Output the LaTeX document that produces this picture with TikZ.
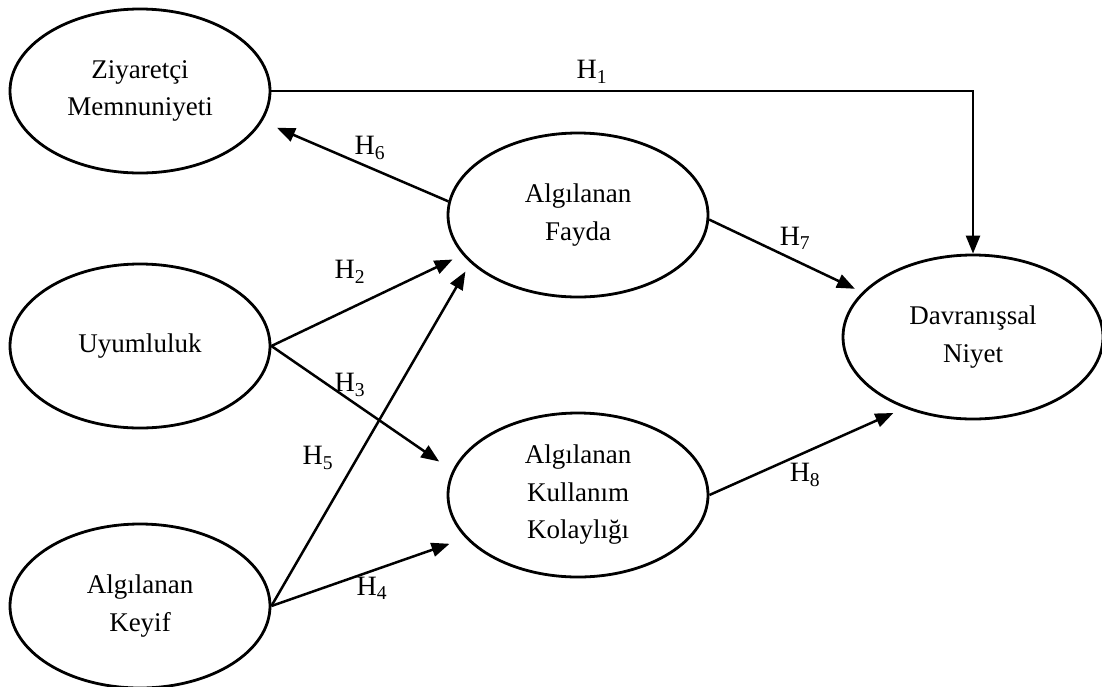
\documentclass[tikz,border=0pt]{standalone}
\usepackage{fontspec}
\setmainfont{Liberation Serif}
\usetikzlibrary{arrows.meta,shapes.geometric}

\begin{document}
\begin{tikzpicture}[x=1pt,y=-1pt,
  latent/.style={ellipse, draw, line width=2.8pt, minimum width=260pt,
    minimum height=164pt, inner sep=0pt, align=center,
    font=\fontsize{27}{37.5}\selectfont},
  rel/.style={line width=2.5pt, -{Triangle[length=18pt,width=14pt]}},
  hlab/.style={font=\fontsize{28}{32}\selectfont, inner sep=0pt}
]
\useasboundingbox (0,0) rectangle (1102,686);

% constructs
\node[latent] (Z)  at (140,91)  {Ziyaretçi\\Memnuniyeti};
\node[latent] (U)  at (140,346) {Uyumluluk};
\node[latent] (K)  at (140,606) {Algılanan\\Keyif};
\node[latent] (F)  at (578,215) {Algılanan\\Fayda};
\node[latent] (KK) at (578,495) {Algılanan\\Kullanım\\Kolaylığı};
\node[latent] (D)  at (973,337) {Davranışsal\\Niyet};

% hypothesised paths
\draw[rel] (Z.east) -| (D.north);
\draw[rel, shorten >=16pt] (F.174) -- (Z.-14);
\draw[rel, shorten >=8pt]  (F.-2) -- (D.158);
\draw[rel, shorten >=11pt] (U.east) -- (F.199);
\draw[rel, shorten >=16pt] (U.east) -- (KK.169);
\draw[rel, shorten >=10pt] (K.east) -- (F.204);
\draw[rel, shorten >=17pt] (K.east) -- (KK.201);
\draw[rel, shorten >=12pt] (KK.east) -- (D.226);

% path labels
\node[hlab] (h1) at (592,72)  {H\textsubscript{1}};
\node[hlab] (h6) at (370,148) {H\textsubscript{6}};
\node[hlab] (h7) at (795,238) {H\textsubscript{7}};
\node[hlab] (h2) at (350,272) {H\textsubscript{2}};
\node[hlab] (h3) at (350,385) {H\textsubscript{3}};
\node[hlab] (h5) at (318,458) {H\textsubscript{5}};
\node[hlab] (h4) at (372,588) {H\textsubscript{4}};
\node[hlab] (h8) at (805,475) {H\textsubscript{8}};
\end{tikzpicture}
\end{document}
